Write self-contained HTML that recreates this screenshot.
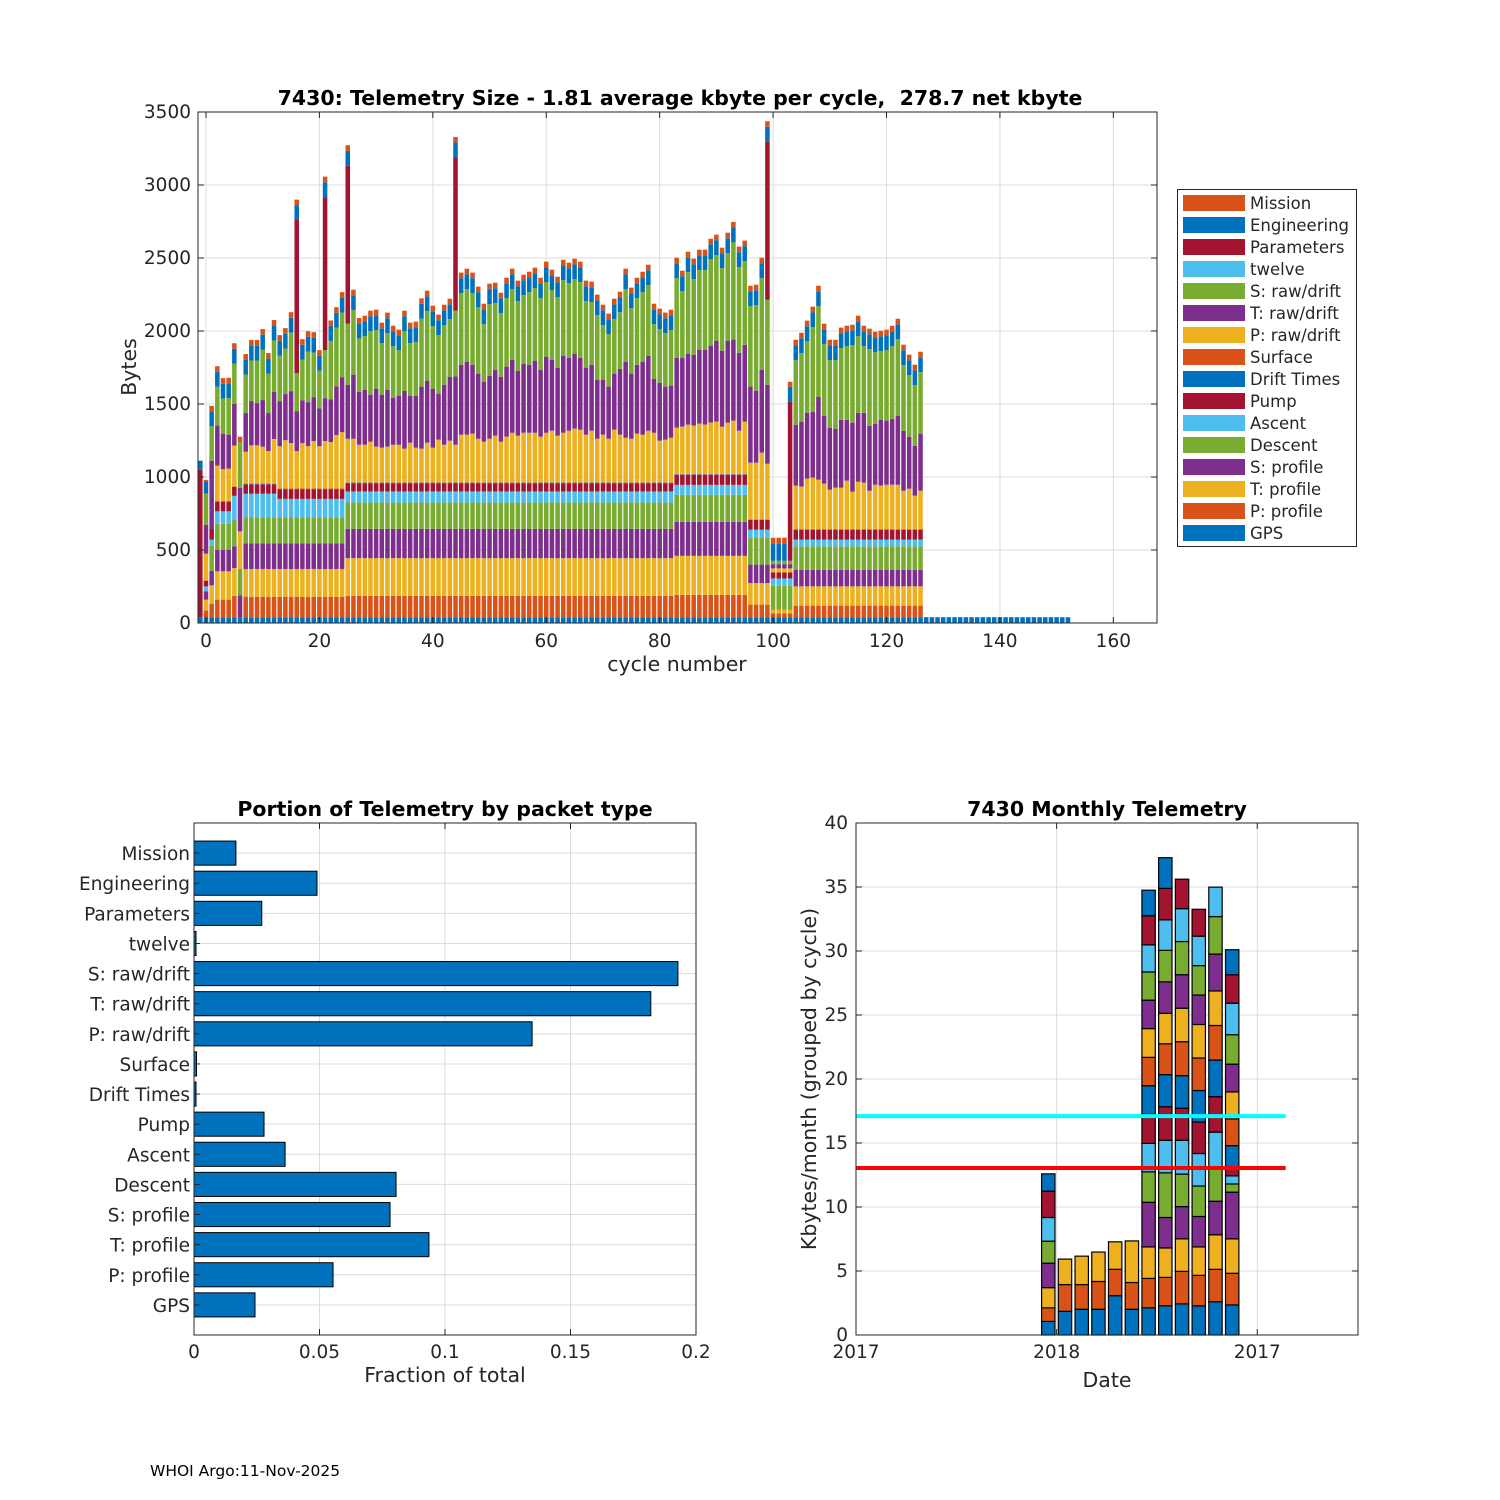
<!DOCTYPE html>
<html><head><meta charset="utf-8"><title>7430 Telemetry</title>
<style>
html,body{margin:0;padding:0;background:#fff;}
svg{display:block;font-family:"DejaVu Sans","Liberation Sans",sans-serif;}
</style></head>
<body>
<svg id="fig" width="1500" height="1500" viewBox="0 0 1500 1500" xmlns="http://www.w3.org/2000/svg">
<rect x="0" y="0" width="1500" height="1500" fill="#fff"/>
<g id="top"></g>
<g id="bl"></g>
<g id="br"></g>
<text x="150" y="1476" font-size="15.5" fill="#000">WHOI Argo:11-Nov-2025</text>
</svg>
<script>
// ===== TOP CHART DATA (index 0 = cycle -1) =====
const firstCycle = -1;
const gps = [
40,40,40,40,40,40,40,40,40,40, 40,40,40,40,40,40,40,40,40,40,
40,40,40,40,40,40,40,40,40,40, 40,40,40,40,40,40,40,40,40,40,
40,40,40,40,40,40,40,40,40,40, 40,40,40,40,40,40,40,40,40,40,
40,40,40,40,40,40,40,40,40,40, 40,40,40,40,40,40,40,40,40,40,
40,40,40,40,40,40,40,40,40,40, 40,40,40,40,40,40,40,40,40,40,
40,40,40,40,40,40,40,40,40,40, 40,40,40,40,40,40,40,40,40,40,
40,40,40,40,40,40,40,40,40,40, 40,40,40,40,40,40,40,40,40,40,
40,40,40,40,40,40,40,40,40,40, 40,40,40,40];
const pProfile = [0,45,92,120,120,120,146,0,
140,140,140,140,140,140,140,140,140,140,140,140,140,140,140,140,140,140,
146,146,146,146,146,146,146,146,146,146, 146,146,146,146,146,146,146,146,146,146,
146,146,146,146,146,146,146,146,146,146, 146,146,146,146,146,146,146,146,146,146,
146,146,146,146,146,146,146,146,146,146, 146,146,146,146,146,146,146,146,
153,153,153,153,153,153,153,153,153,153,153,153,153,
86,86,86,86, 27,27,27,27,
79,79,79,79,79,79,79,79,79,79,79,79,79,79,79,79,79,79,79,79,79,79,79];
const tProfile = [0,75,126,194,194,194,190,0,
190,190,190,190,190,190,190,190,190,190,190,190,190,190,190,190,190,190,
258,258,258,258,258,258,258,258,258,258, 258,258,258,258,258,258,258,258,258,258,
258,258,258,258,258,258,258,258,258,258, 258,258,258,258,258,258,258,258,258,258,
258,258,258,258,258,258,258,258,258,258, 258,258,258,258,258,258,258,258,
267,267,267,267,267,267,267,267,267,267,267,267,267,
148,148,148,148, 23,23,23,23,
132,132,132,132,132,132,132,132,132,132,132,132,132,132,132,132,132,132,132,132,132,132,132];
const sProfile = [0,57,100,148,148,148,150,150,
175,175,175,175,175,175,175,175,175,175,175,175,175,175,175,175,175,175,
201,201,201,201,201,201,201,201,201,201, 201,201,201,201,201,201,201,201,201,201,
201,201,201,201,201,201,201,201,201,201, 201,201,201,201,201,201,201,201,201,201,
201,201,201,201,201,201,201,201,201,201, 201,201,201,201,201,201,201,201,
233,233,233,233,233,233,233,233,233,233,233,233,233,
126,126,126,126, 0,0,0,0,
114,114,114,114,114,114,114,114,114,114,114,114,114,114,114,114,114,114,114,114,114,114,114];
const descent = [0,0,172,178,178,178,180,180,
180,180,180,180,180,180,180,180,180,180,180,180,180,180,180,180,180,180,
180,180,180,180,180,180,180,180,180,180, 180,180,180,180,180,180,180,180,180,180,
180,180,180,180,180,180,180,180,180,180, 180,180,180,180,180,180,180,180,180,180,
180,180,180,180,180,180,180,180,180,180, 180,180,180,180,180,180,180,180,
185,185,185,185,185,185,185,185,185,185,185,185,185,
182,182,182,182, 165,165,165,165,
160,160,160,160,160,160,160,160,160,160,160,160,160,160,160,160,160,160,160,160,160,160,160];
const ascent = [0,34,41,85,85,85,165,0,
160,160,160,160,160,160,125,125,125,125,125,125,125,125,125,125,125,125,
76,76,76,76,76,76,76,76,76,76, 76,76,76,76,76,76,76,76,76,76,
76,76,76,76,76,76,76,76,76,76, 76,76,76,76,76,76,76,76,76,76,
76,76,76,76,76,76,76,76,76,76, 76,76,76,76,76,76,76,76,
68,68,68,68,68,68,68,68,68,68,68,68,68,
57,57,57,57, 50,50,50,50,
46,46,46,46,46,46,46,46,46,46,46,46,46,46,46,46,46,46,46,46,46,46,46];
const pump = [0,39,73,68,68,68,63,0,
65,65,65,65,65,65,65,65,65,65,65,65,65,65,65,65,65,65,
57,57,57,57,57,57,57,57,57,57, 57,57,57,57,57,57,57,57,57,57,
57,57,57,57,57,57,57,57,57,57, 57,57,57,57,57,57,57,57,57,57,
57,57,57,57,57,57,57,57,57,57, 57,57,57,57,57,57,57,57,
69,69,69,69,69,69,69,69,69,69,69,69,69,
69,69,69,69, 41,41,41,41,
69,69,69,69,69,69,69,69,69,69,69,69,69,69,69,69,69,69,69,69,69,69,69];
const driftTimes = [0,0,0,0,0,0,0,0,
3,3,3,3,3,3,3,3,3,3, 3,3,3,3,3,3,3,3,3,3, 3,3,3,3,3,3,3,3,3,3,
3,3,3,3,3,3,3,3,3,3, 3,3,3,3,3,3,3,3,3,3, 3,3,3,3,3,3,3,3,3,3,
3,3,3,3,3,3,3,3,3,3, 3,3,3,3,3,3,3,3,3,3, 3,3,3,3,3,3,3,3,3];
const surface = [0,0,0,0,0,0,0,0,
3,3,3,3,3,3,3,3,3,3, 3,3,3,3,3,3,3,3,3,3, 3,3,3,3,3,3,3,3,3,3,
3,3,3,3,3,3,3,3,3,3, 3,3,3,3,3,3,3,3,3,3, 3,3,3,3,3,3,3,3,3,3,
3,3,3,3,3,3,3,3,3,3, 3,3,3,3,3,3,3,3,3,3, 3,3,3,3,3,3,3,3,3];
const pRaw = [0,185,0,245,220,225,281,258,
217,261,261,252,222,304,290,331,311,256,311,290,325,290,325,318,366,386,
298,298,257,257,278,244,237,244,257,257,230,271,237,230,271,237,292,257,285,257,
326,326,333,298,278,298,319,278,312,339,319,339,339,339,312,339,353,319,339,353,
367,360,326,353,298,326,298,360,326,305,298,333,326,353,339,285,292,305,
317,324,338,331,345,338,352,358,324,352,365,296,358,
390,390,459,383, 28,28,28,28,
301,294,349,355,342,314,273,287,287,335,260,328,321,266,307,301,307,307,307,266,280,232,266];
const tRaw = [0,198,468,274,244,232,287,299,
265,303,289,319,260,322,309,316,356,274,294,302,301,260,294,294,335,377,
370,439,363,377,322,397,363,390,322,336,397,322,356,425,425,404,315,411,438,468,
479,500,472,446,411,432,452,445,480,501,445,473,466,494,459,521,487,466,528,500,
514,493,459,452,405,377,357,384,450,521,446,472,500,514,370,397,363,357,
479,472,486,486,506,513,527,555,520,561,555,534,527,
521,493,568,541, 29,29,29,29,
417,445,451,452,568,466,425,404,465,417,472,472,479,445,418,451,439,452,473,411,356,342,391];
const sRaw = [0,213,235,267,240,250,274,313,
264,278,292,346,271,353,312,312,401,260,278,346,305,258,329,399,401,442,
418,442,365,367,435,401,353,388,353,312,408,360,367,465,476,428,401,408,394,450,
491,497,491,456,394,490,456,435,469,483,477,470,497,497,490,511,476,483,517,511,
510,518,456,429,442,373,360,373,389,497,449,456,476,483,374,367,367,380,
545,456,558,517,545,545,592,586,566,599,666,587,573,
551,586,627,582, 23,23,23,23,
442,469,491,580,620,490,462,469,491,504,531,525,456,525,490,470,483,497,524,449,422,415,421];
const twelve = [0,0,0,0,0,0,0,0,0,0];
const parameters = [1010,0,0,0,0,0,0,0,0,0, 0,0,0,0,0,0,0,1049,0,0,
0,0,1048,0,0,0,1082,0,0,0, 0,0,0,0,0,0,0,0,0,0,
0,0,0,0,0,1050,0,0,0,0, 0,0,0,0,0,0,0,0,0,0,
0,0,0,0,0,0,0,0,0,0, 0,0,0,0,0,0,0,0,0,0,
0,0,0,0,0,0,0,0,0,0, 0,0,0,0,0,0,0,0,0,0,
1083,0,0,0,1090];
const engineering = [62,84,102,102,102,102,102,0,
102,102,102,102,102,102,102,102,102,102, 102,102,102,102,102,102,102,102,102,102,
102,102,102,102,102,102,102,102,102,102, 102,102,102,102,102,102,102,102,102,102,
102,102,102,102,102,102,102,102,102,102, 102,102,102,102,102,102,102,102,102,102,
102,102,102,102,102,102,102,102,102,102, 102,102,102,102,102,102,102,102,102,102,
102,102,102,102,102,102,102,102,102,102,
102,102,102, 120,120,120,102,
102,102,102,102,102,102,102,102,102,102,102,102,102,102,102,102,102,102,102,102,102,102,102];
const mission = [0,10,38,38,38,38,38,36,
38,38,38,38,38,38,38,38,38,38, 38,38,38,38,38,38,38,38,38,38,
38,38,38,38,38,38,38,38,38,38, 38,38,38,38,38,38,38,38,38,38,
38,38,38,38,38,38,38,38,38,38, 38,38,38,38,38,38,38,38,38,38,
38,38,38,38,38,38,38,38,38,38, 38,38,38,38,38,38,38,38,38,38,
38,38,38,38,38,38,38,38,38,38,
38,38,38, 38,38,38,34,
38,38,38,38,38,38,38,38,38,38,38,38,38,38,38,38,38,38,38,38,38,38,38];
const topYTicks = [0,500,1000,1500,2000,2500,3000,3500];
const topXTicks = [0,20,40,60,80,100,120,140,160];
const seriesNames = ["GPS","P: profile","T: profile","S: profile","Descent","Ascent","Pump","Drift Times","Surface","P: raw/drift","T: raw/drift","S: raw/drift","twelve","Parameters","Engineering","Mission"];

// ===== BOTTOM-LEFT DATA =====
const packetLabels = ["GPS","P: profile","T: profile","S: profile","Descent","Ascent","Pump","Drift Times","Surface","P: raw/drift","T: raw/drift","S: raw/drift","twelve","Parameters","Engineering","Mission"];
const packetFractions = [0.0243,0.0554,0.0936,0.0781,0.0805,0.0363,0.0279,0.0008,0.001,0.1347,0.182,0.1928,0.0008,0.027,0.049,0.0167];
const fracTicks = [0,0.05,0.1,0.15,0.2];
const fracTickLabels = ["0","0.05","0.1","0.15","0.2"];

// ===== BOTTOM-RIGHT DATA =====
const monthCenters = [11.5,12.5,13.5,14.5,15.5,16.5,17.5,18.5,19.5,20.5,21.5,22.5];
const monthSegments = [
[1.06,1.06,1.58,1.91,1.72,1.85,2.06,1.35],
[1.85,2.09,1.99],
[2.01,1.93,2.22],
[2.01,2.17,2.30],
[3.07,2.06,2.15],
[2.01,2.09,3.25],
[2.12,2.30,2.46,3.49,2.38,2.22,2.28,2.22,2.22,2.25,2.22,2.20,2.12,2.27,2.00],
[2.28,2.22,2.30,2.38,3.49,2.54,2.62,2.51,2.41,2.38,2.46,2.46,2.38,2.46,2.40],
[2.43,2.54,2.54,2.52,2.54,2.64,2.51,2.54,2.65,2.62,2.62,2.59,2.57,2.30],
[2.28,2.38,2.22,2.38,2.38,2.54,2.46,2.46,2.54,2.62,2.30,2.30,2.30,2.10],
[2.59,2.54,2.70,2.62,2.57,2.83,2.77,2.86,2.70,2.70,2.88,2.93,2.30],
[2.35,2.47,2.69,3.65,0.64,0.63,0.72,1.64,2.09,2.11,2.17,2.30,2.46,2.23,1.95]
];
const monthYTicks = [0,5,10,15,20,25,30,35,40];
const dateTicks = [0,12,24];
const dateTickLabels = ["2017","2018","2017"];
const cyanLevel = 17.1;
const redLevel = 13.05;
const refLineEndMonth = 25.7;

const NS = "http://www.w3.org/2000/svg";
function mk(tag, parent, attrs){
  const e = document.createElementNS(NS, tag);
  for (const k in attrs) e.setAttribute(k, attrs[k]);
  parent.appendChild(e);
  return e;
}
const C = {blue:"#0072BD",orange:"#D95319",yellow:"#EDB120",purple:"#7E2F8E",green:"#77AC30",cyan:"#4DBEEE",red:"#A2142F"};
const TXT = "#262626", GRID = "#dcdcdc", AX = "#262626";

// ================= TOP CHART =================
(function(){
  const g = document.getElementById('top');
  const L=198, R=1157, T=112, B=623;
  const xmin=-1.41, xmax=167.7, ymax=3500;
  const xs = v => L + (v - xmin) * (R - L) / (xmax - xmin);
  const ys = v => B - v * (B - T) / ymax;
  topYTicks.forEach(t=>{
    const l = mk('line', g, {x1:L,x2:R,y1:ys(t),y2:ys(t),stroke:GRID,'stroke-width':1});
    
    
  });
  topXTicks.forEach(t=>{
    const l = mk('line', g, {x1:xs(t),x2:xs(t),y1:T,y2:B,stroke:GRID,'stroke-width':1});
    
    
  });
  const series = [gps,pProfile,tProfile,sProfile,descent,ascent,pump,driftTimes,surface,pRaw,tRaw,sRaw,twelve,parameters,engineering,mission];
  const colors = [C.blue,C.orange,C.yellow,C.purple,C.green,C.cyan,C.red,C.blue,C.orange,C.yellow,C.purple,C.green,C.cyan,C.red,C.blue,C.orange];
  const n = gps.length;
  const bw = 0.8;
  for (let i=0;i<n;i++){
    const cyc = firstCycle + i;
    let acc = 0;
    for (let s=0;s<series.length;s++){
      const v = series[s][i] || 0;
      if (v<=0) continue;
      const y1 = ys(acc+v), y0 = ys(acc);
      const r = mk('rect', g, {x:xs(cyc-bw/2), y:y1, width:xs(cyc+bw/2)-xs(cyc-bw/2), height:y0-y1, fill:colors[s]});
      
      
      acc += v;
    }
  }
  const box = mk('rect', g, {x:L,y:T,width:R-L,height:B-T,fill:'none',stroke:AX,'stroke-width':1});
  
  
  topYTicks.forEach(t=>{
    const y=ys(t);
    mk('line', g, {x1:L,x2:L+6,y1:y,y2:y,stroke:AX});
    mk('line', g, {x1:R,x2:R-6,y1:y,y2:y,stroke:AX});
    const tx = mk('text', g, {x:L-7,y:y+6,'text-anchor':'end','font-size':18.5,fill:TXT});
    tx.textContent = t;
    
    
  });
  topXTicks.forEach(t=>{
    const x=xs(t);
    mk('line', g, {x1:x,x2:x,y1:B,y2:B-6,stroke:AX});
    mk('line', g, {x1:x,x2:x,y1:T,y2:T+6,stroke:AX});
    const tx = mk('text', g, {x:x,y:B+24,'text-anchor':'middle','font-size':18.5,fill:TXT});
    tx.textContent = t;
    
    
  });
  const title = mk('text', g, {x:680,y:105,'text-anchor':'middle','font-size':20.5,'font-weight':'bold',fill:'#000'});
  title.style.whiteSpace='pre';
  title.textContent = "7430: Telemetry Size - 1.81 average kbyte per cycle,  278.7 net kbyte";
  
  
  const xl = mk('text', g, {x:677,y:671,'text-anchor':'middle','font-size':20.5,fill:TXT});
  xl.textContent = "cycle number";
  
  
  const yl = mk('text', g, {x:0,y:0,'text-anchor':'middle','font-size':20.5,fill:TXT,transform:'translate(136,367) rotate(-90)'});
  yl.textContent = "Bytes";
  
  
  const lg = mk('g', g, {});
  
  
  const lb = mk('rect', lg, {x:1177.5,y:189.5,width:179,height:357,fill:'#fff',stroke:AX,'stroke-width':1});
  
  
  for (let k=0;k<16;k++){
    const s = 15-k;
    const cy = 203 + 22*k;
    const sw = mk('rect', lg, {x:1183,y:cy-8,width:62,height:16,fill:colors[s]});
    
    
    const t = mk('text', lg, {x:1250,y:cy+6,'font-size':16.5,fill:TXT});
    t.textContent = seriesNames[s];
    
    
  }
})();

// ================= BOTTOM-LEFT =================
(function(){
  const g = document.getElementById('bl');
  const L=194, R=696, T=823, B=1335;
  const xs = v => L + v*(R-L)/0.2;
  const ys = v => B - v*(B-T)/17;
  fracTicks.forEach(t=>{
    const l = mk('line', g, {x1:xs(t),x2:xs(t),y1:T,y2:B,stroke:GRID});
    
    
  });
  packetLabels.forEach((lab,i)=>{
    const l = mk('line', g, {x1:L,x2:R,y1:ys(i+1),y2:ys(i+1),stroke:GRID});
    
    
  });
  packetLabels.forEach((lab,i)=>{
    const y1 = ys(i+1+0.4), y0 = ys(i+1-0.4);
    const r = mk('rect', g, {x:L,y:y1,width:Math.max(xs(packetFractions[i])-L,0.5),height:y0-y1,fill:C.blue,stroke:'#000','stroke-width':1});
    
    
    mk('line', g, {x1:L,x2:L+6,y1:ys(i+1),y2:ys(i+1),stroke:AX});
    const t = mk('text', g, {x:L-4,y:ys(i+1)+7,'text-anchor':'end','font-size':18.5,fill:TXT});
    t.textContent = lab;
    
    
  });
  const box = mk('rect', g, {x:L,y:T,width:R-L,height:B-T,fill:'none',stroke:AX});
  
  
  fracTicks.forEach((t,i)=>{
    mk('line', g, {x1:xs(t),x2:xs(t),y1:B,y2:B-6,stroke:AX});
    mk('line', g, {x1:xs(t),x2:xs(t),y1:T,y2:T+6,stroke:AX});
    const tx = mk('text', g, {x:xs(t),y:B+23,'text-anchor':'middle','font-size':18.5,fill:TXT});
    tx.textContent = fracTickLabels[i];
    
    
  });
  const title = mk('text', g, {x:445,y:816,'text-anchor':'middle','font-size':20.5,'font-weight':'bold',fill:'#000'});
  title.textContent = "Portion of Telemetry by packet type";
  
  
  const xl = mk('text', g, {x:445,y:1382,'text-anchor':'middle','font-size':20.5,fill:TXT});
  xl.textContent = "Fraction of total";
  
  
})();

// ================= BOTTOM-RIGHT =================
(function(){
  const g = document.getElementById('br');
  const L=856, R=1358, T=823, B=1335;
  const xs = m => L + m*16.72;
  const ys = v => B - v*(B-T)/40;
  monthYTicks.forEach(t=>{
    const l = mk('line', g, {x1:L,x2:R,y1:ys(t),y2:ys(t),stroke:GRID});
    
    
  });
  dateTicks.forEach(t=>{
    const l = mk('line', g, {x1:xs(t),x2:xs(t),y1:T,y2:B,stroke:GRID});
    
    
  });
  const cyc = [C.blue,C.orange,C.yellow,C.purple,C.green,C.cyan,C.red];
  monthCenters.forEach((m,i)=>{
    let acc=0;
    monthSegments[i].forEach((v,j)=>{
      const y1=ys(acc+v), y0=ys(acc);
      const r = mk('rect', g, {x:xs(m-0.4),y:y1,width:xs(m+0.4)-xs(m-0.4),height:y0-y1,fill:cyc[j%7],stroke:'#000','stroke-width':1.2});
      
      
      acc+=v;
    });
  });
  const cl = mk('line', g, {x1:xs(0),x2:xs(refLineEndMonth),y1:ys(cyanLevel),y2:ys(cyanLevel),stroke:'#00FFFF','stroke-width':4});
  
  
  const rl = mk('line', g, {x1:xs(0),x2:xs(refLineEndMonth),y1:ys(redLevel),y2:ys(redLevel),stroke:'#FF0000','stroke-width':4});
  
  
  const box = mk('rect', g, {x:L,y:T,width:R-L,height:B-T,fill:'none',stroke:AX});
  
  
  monthYTicks.forEach(t=>{
    mk('line', g, {x1:L,x2:L+6,y1:ys(t),y2:ys(t),stroke:AX});
    mk('line', g, {x1:R,x2:R-6,y1:ys(t),y2:ys(t),stroke:AX});
    const tx = mk('text', g, {x:L-8,y:ys(t)+6,'text-anchor':'end','font-size':18.5,fill:TXT});
    tx.textContent = t;
    
    
  });
  dateTicks.forEach((t,i)=>{
    mk('line', g, {x1:xs(t),x2:xs(t),y1:B,y2:B-6,stroke:AX});
    mk('line', g, {x1:xs(t),x2:xs(t),y1:T,y2:T+6,stroke:AX});
    const tx = mk('text', g, {x:xs(t),y:B+23,'text-anchor':'middle','font-size':18.5,fill:TXT});
    tx.textContent = dateTickLabels[i];
    
    
  });
  const title = mk('text', g, {x:1107,y:816,'text-anchor':'middle','font-size':20.5,'font-weight':'bold',fill:'#000'});
  title.textContent = "7430 Monthly Telemetry";
  
  
  const xl = mk('text', g, {x:1107,y:1387,'text-anchor':'middle','font-size':20.5,fill:TXT});
  xl.textContent = "Date";
  
  
  const yl = mk('text', g, {x:0,y:0,'text-anchor':'middle','font-size':20.5,fill:TXT,transform:'translate(816,1079) rotate(-90)'});
  yl.textContent = "Kbytes/month (grouped by cycle)";
  
  
})();
</script>
</body></html>
